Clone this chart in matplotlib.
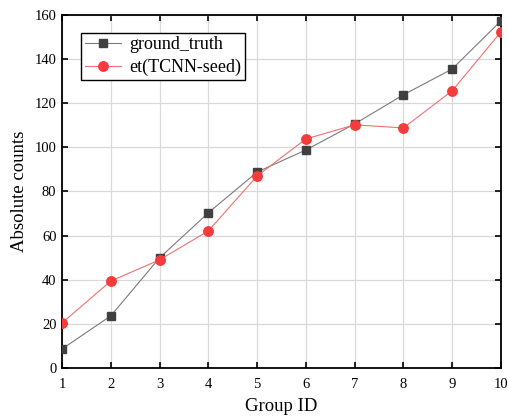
import matplotlib
matplotlib.use("Agg")
import matplotlib.pyplot as plt
from matplotlib.ticker import MultipleLocator

plt.rcParams['font.family'] = ['Liberation Serif', 'DejaVu Serif']

group_ids = [1, 2, 3, 4, 5, 6, 7, 8, 9, 10]
ground_truth = [8.6, 23.6, 49.9, 70.3, 88.8, 98.8, 110.6, 123.8, 135.5, 157.3]
predicted = [20.4, 39.4, 49.0, 62.1, 87.0, 103.8, 110.2, 108.8, 125.6, 152.3]

fig = plt.figure(figsize=(5.08, 4.16), dpi=100)
ax = fig.add_axes([0.122, 0.1154, 0.864, 0.8486])

ax.plot(group_ids, ground_truth, color='#7a7a7a', lw=0.8, marker='s', ms=5.5,
        mfc='#404040', mec='#404040', label='ground_truth', zorder=3)
ax.plot(group_ids, predicted, color='#f07070', lw=0.8, marker='o', ms=6.8,
        mfc='#f53b3b', mec='#f53b3b', label='et(TCNN-seed)', zorder=4)

ax.set_xlim(1, 10)
ax.set_ylim(0, 160)
ax.xaxis.set_major_locator(MultipleLocator(1))
ax.yaxis.set_major_locator(MultipleLocator(20))
ax.grid(True, color='#d9d9d9', lw=0.9)
ax.set_axisbelow(True)
ax.tick_params(direction='in', top=True, right=True, length=4, width=1.2,
               labelsize=10.5, colors='black')
ax.tick_params(axis='x', pad=7)
ax.tick_params(axis='y', pad=4)
for s in ax.spines.values():
    s.set_linewidth(1.3)

ax.set_xlabel('Group ID', fontsize=13.5, labelpad=5)
ax.set_ylabel('Absolute counts', fontsize=13.5, labelpad=5)

leg = ax.legend(loc='upper left', bbox_to_anchor=(0.035, 0.96), fontsize=13,
                frameon=True, fancybox=False, edgecolor='black', framealpha=1,
                borderpad=0.2, handlelength=2.0, handletextpad=0.5, labelspacing=0.3,
                borderaxespad=0.2)
leg.get_frame().set_linewidth(1.0)

fig.savefig('out.png', dpi=100)
